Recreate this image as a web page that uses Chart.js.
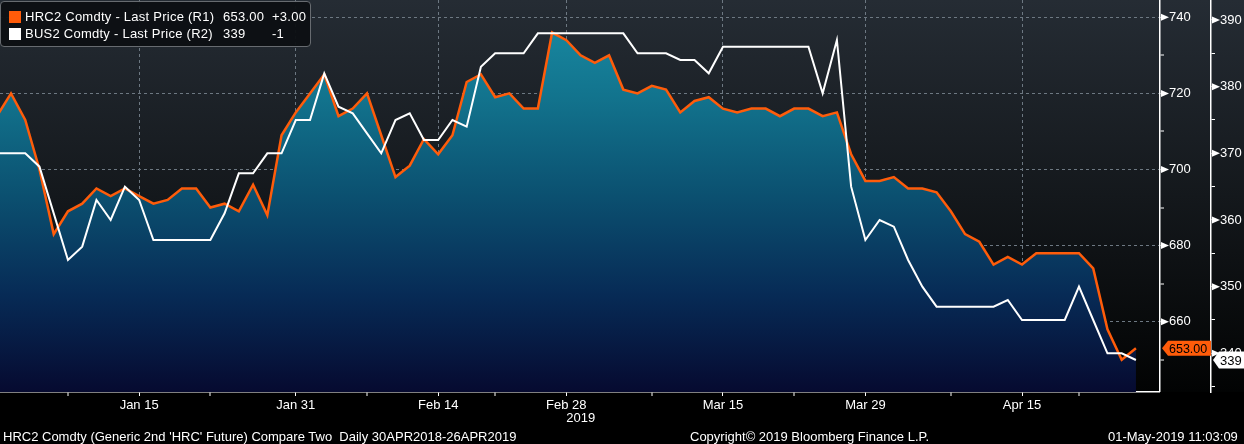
<!DOCTYPE html>
<html>
<head>
<meta charset="utf-8">
<script src="https://cdn.jsdelivr.net/npm/chart.js@4.4.1/dist/chart.umd.min.js"></script>
<style>
  html, body { margin: 0; padding: 0; background: #000; }
  #wrap { position: relative; width: 1244px; height: 444px; overflow: hidden; }
  #wrap canvas { position: absolute; left: 0; top: 0; }
  .t { position: absolute; color: #fff; font: 13px "Liberation Sans", Arial, sans-serif; white-space: pre; line-height: 15px; }
  #legend .t { letter-spacing: 0.25px; }
  #legend { position: absolute; left: 0; top: 1px; width: 311px; height: 46px; box-sizing: border-box;
            background: rgba(13,16,19,0.96); border: 1px solid #676b70; border-radius: 4px; }
  .sq { position: absolute; width: 12px; height: 12px; }
</style>
</head>
<body>
<div id="wrap">
  <canvas id="myChart" width="1244" height="444"></canvas>
  <div id="legend">
    <div class="sq" style="left:8px; top:9px; background:#ff5c0a"></div>
    <div class="t" style="left:24px; top:7px">HRC2 Comdty - Last Price (R1)</div>
    <div class="t" style="left:222px; top:7px" id="lv1"></div>
    <div class="t" style="left:271px; top:7px" id="lc1"></div>
    <div class="sq" style="left:8px; top:26px; background:#fff"></div>
    <div class="t" style="left:24px; top:24px">BUS2 Comdty - Last Price (R2)</div>
    <div class="t" style="left:222px; top:24px" id="lv2"></div>
    <div class="t" style="left:271px; top:24px" id="lc2"></div>
  </div>
  <div class="t" style="left:3px; top:429px">HRC2 Comdty (Generic 2nd 'HRC' Future) Compare Two  Daily 30APR2018-26APR2019</div>
  <div class="t" style="left:690px; top:429px">Copyright© 2019 Bloomberg Finance L.P.</div>
  <div class="t" style="left:1108px; top:429px">01-May-2019 11:03:09</div>
</div>
<script>
// trading days shown
const dates = [
    '2018-12-31',
    '2019-01-02', '2019-01-03', '2019-01-04', '2019-01-07', '2019-01-08', '2019-01-09', '2019-01-10',
    '2019-01-11', '2019-01-14', '2019-01-15', '2019-01-16', '2019-01-17', '2019-01-18', '2019-01-22',
    '2019-01-23', '2019-01-24', '2019-01-25', '2019-01-28', '2019-01-29', '2019-01-30', '2019-01-31',
    '2019-02-01', '2019-02-04', '2019-02-05', '2019-02-06', '2019-02-07', '2019-02-08', '2019-02-11',
    '2019-02-12', '2019-02-13', '2019-02-14', '2019-02-15', '2019-02-19', '2019-02-20', '2019-02-21',
    '2019-02-22', '2019-02-25', '2019-02-26', '2019-02-27', '2019-02-28',
    '2019-03-01', '2019-03-04', '2019-03-05', '2019-03-06', '2019-03-07', '2019-03-08', '2019-03-11',
    '2019-03-12', '2019-03-13', '2019-03-14', '2019-03-15', '2019-03-18', '2019-03-19', '2019-03-20',
    '2019-03-21', '2019-03-22', '2019-03-25', '2019-03-26', '2019-03-27', '2019-03-28', '2019-03-29',
    '2019-04-01', '2019-04-02', '2019-04-03', '2019-04-04', '2019-04-05', '2019-04-08', '2019-04-09',
    '2019-04-10', '2019-04-11', '2019-04-12', '2019-04-15', '2019-04-16', '2019-04-17', '2019-04-18',
    '2019-04-22', '2019-04-23', '2019-04-24', '2019-04-25', '2019-04-26'
];

// HRC2 (R1)
const hrc = [
    714, 720, 713, 700, 683, 689, 691, 695, 693, 695,
    693, 691, 692, 695, 695, 690, 691, 689, 696, 688,
    709, 715, 720, 725, 714, 716, 720, 709, 698, 701,
    708, 704, 709, 723, 725, 719, 720, 716, 716, 736,
    734, 730, 728, 730, 721, 720, 722, 721, 715, 718,
    719, 716, 715, 716, 716, 714, 716, 716, 714, 715,
    704, 697, 697, 698, 695, 695, 694, 689, 683, 681,
    675, 677, 675, 678, 678, 678, 678, 674, 658, 650,
    653
];

// BUS2 (R2)
const bus = [
    370, 370, 370, 368, 361, 354, 356, 363, 360, 365,
    363, 357, 357, 357, 357, 357, 361, 367, 367, 370,
    370, 375, 375, 382, 377, 376, 373, 370, 375, 376,
    372, 372, 375, 374, 383, 385, 385, 385, 388, 388,
    388, 388, 388, 388, 388, 385, 385, 385, 384, 384,
    382, 386, 386, 386, 386, 386, 386, 386, 379, 387,
    365, 357, 360, 359, 354, 350, 347, 347, 347, 347,
    347, 348, 345, 345, 345, 345, 350, 345, 340, 340,
    339
];

// axis ticks
const xMajor = ['2019-01-15', '2019-01-31', '2019-02-14', '2019-02-28', '2019-03-15', '2019-03-29', '2019-04-15'];
const xMinor = ['2019-01-08', '2019-01-23', '2019-02-07', '2019-02-21', '2019-03-08', '2019-03-22', '2019-04-08', '2019-04-22'];
const r1Major = [660, 680, 700, 720, 740];
const r1Minor = [650, 670, 690, 710, 730];
const r2Major = [340, 350, 360, 370, 380, 390];
const r2Minor = [335, 345, 355, 365, 375, 385];

const X_MIN = 0.2275, X_MAX = 81.69;
const R1_MIN = 641.5, R1_MAX = 744.55;
const R2_MIN = 334.2, R2_MAX = 393.0;

const months = ['Jan', 'Feb', 'Mar', 'Apr', 'May', 'Jun', 'Jul', 'Aug', 'Sep', 'Oct', 'Nov', 'Dec'];
const fmtDate = d => months[+d.slice(5, 7) - 1] + ' ' + d.slice(8, 10);
const majorIdx = xMajor.map(d => dates.indexOf(d));
const minorIdx = xMinor.map(d => dates.indexOf(d));

const ORANGE = '#ff5c0a';
const GRID = '#6d7882';
const FONT = { family: '"Liberation Sans", Arial, sans-serif', size: 13 };

// legend values
const last1 = hrc[hrc.length - 1], prev1 = hrc[hrc.length - 2];
const last2 = bus[bus.length - 1], prev2 = bus[bus.length - 2];
document.getElementById('lv1').textContent = last1.toFixed(2);
document.getElementById('lc1').textContent = (last1 - prev1 >= 0 ? '+' : '') + (last1 - prev1).toFixed(2);
document.getElementById('lv2').textContent = String(last2);
document.getElementById('lc2').textContent = String(last2 - prev2);

const bgPlugin = {
    id: 'bg',
    beforeDraw(chart) {
        const ctx = chart.ctx, a = chart.chartArea;
        ctx.save();
        ctx.fillStyle = '#000';
        ctx.fillRect(0, 0, chart.width, chart.height);
        const g = ctx.createLinearGradient(0, a.top, 0, a.bottom);
        g.addColorStop(0, '#252c34');
        g.addColorStop(0.5, '#14181c');
        g.addColorStop(1, '#020303');
        ctx.fillStyle = g;
        ctx.fillRect(0, a.top, chart.width, a.bottom - a.top);
        ctx.restore();
    }
};

function arrowRight(ctx, x, y) {
    ctx.beginPath();
    ctx.moveTo(x, y - 3.5);
    ctx.lineTo(x + 8, y);
    ctx.lineTo(x, y + 3.5);
    ctx.closePath();
    ctx.fill();
}

function valueBox(ctx, x, y, w, h, fill, text) {
    ctx.fillStyle = fill;
    ctx.beginPath();
    ctx.moveTo(x, y);
    ctx.lineTo(x + 6, y - h / 2);
    ctx.lineTo(x + w, y - h / 2);
    ctx.lineTo(x + w, y + h / 2);
    ctx.lineTo(x + 6, y + h / 2);
    ctx.closePath();
    ctx.fill();
    ctx.fillStyle = '#000';
    ctx.textAlign = 'left';
    ctx.textBaseline = 'middle';
    ctx.fillText(text, x + 7, y + 1);
}

const markPlugin = {
    id: 'marks',
    afterDraw(chart) {
        const ctx = chart.ctx;
        const r1 = chart.scales.r1, r2 = chart.scales.r2, xs = chart.scales.x;
        ctx.save();
        ctx.fillStyle = '#fff';
        r1Major.forEach(v => arrowRight(ctx, r1.left + 1, r1.getPixelForValue(v)));
        r2Major.forEach(v => arrowRight(ctx, r2.left + 1, r2.getPixelForValue(v)));

        ctx.font = '12.5px "Liberation Sans", Arial, sans-serif';
        valueBox(ctx, r1.left + 2, r1.getPixelForValue(last1), 49, 15, ORANGE, last1.toFixed(2));
        ctx.font = '13px "Liberation Sans", Arial, sans-serif';
        valueBox(ctx, r2.left + 2, r2.getPixelForValue(last2), 31, 17, '#fff', String(last2));

        // year under the first tick of the year shown
        ctx.fillStyle = '#fff';
        ctx.textAlign = 'left';
        ctx.textBaseline = 'middle';
        ctx.fillText('2019', xs.getPixelForValue(dates.indexOf('2019-02-28')), 418);
        ctx.restore();
    }
};

const areaFill = c => {
    const a = c.chart.chartArea;
    if (!a) return 'rgba(0,0,0,0)';
    const g = c.chart.ctx.createLinearGradient(0, a.top, 0, a.bottom);
    g.addColorStop(0, '#1a8ea6');
    g.addColorStop(0.25, '#12738d');
    g.addColorStop(0.5, '#0b5070');
    g.addColorStop(0.75, '#072b56');
    g.addColorStop(1, '#060a30');
    return g;
};

const noPad = s => { s.paddingTop = 0; s.paddingBottom = 0; s.paddingLeft = 0; s.paddingRight = 0; };

const ctx1 = document.getElementById('myChart').getContext('2d');
const myChart = new Chart(ctx1, {
    type: 'line',
    data: {
        datasets: [{
            label: 'BUS2 Comdty',
            data: bus.map((v, i) => ({ x: i, y: v })),
            yAxisID: 'r2',
            borderColor: '#ffffff',
            borderWidth: 2,
            pointRadius: 0,
            fill: false,
            tension: 0,
            order: 0
        }, {
            label: 'HRC2 Comdty',
            data: hrc.map((v, i) => ({ x: i, y: v })),
            yAxisID: 'r1',
            borderColor: ORANGE,
            borderWidth: 2.5,
            pointRadius: 0,
            fill: 'start',
            backgroundColor: areaFill,
            tension: 0,
            order: 1
        }]
    },
    options: {
        responsive: false,
        animation: false,
        layout: { padding: 0 },
        plugins: { legend: { display: false }, tooltip: { enabled: false } },
        scales: {
            x: {
                type: 'linear',
                min: X_MIN,
                max: X_MAX,
                afterBuildTicks: s => { s.ticks = majorIdx.concat(minorIdx).sort((a, b) => a - b).map(v => ({ value: v })); },
                ticks: {
                    autoSkip: false, maxRotation: 0, color: '#fff', font: FONT, padding: 2,
                    callback: v => majorIdx.includes(v) ? fmtDate(dates[v]) : ''
                },
                grid: {
                    color: GRID,
                    lineWidth: c => (c.tick && majorIdx.includes(c.tick.value)) ? 1 : 0,
                    tickColor: '#fff', tickWidth: 1, tickLength: 4
                },
                border: { color: '#fff', width: 1.5, dash: [3, 3] },
                afterFit: s => { noPad(s); s.height = 52; }
            },
            r1: {
                type: 'linear',
                position: 'right',
                weight: 1,
                min: R1_MIN,
                max: R1_MAX,
                afterBuildTicks: s => { s.ticks = r1Minor.concat(r1Major).sort((a, b) => a - b).map(v => ({ value: v })); },
                ticks: {
                    autoSkip: false, color: '#fff', font: FONT, padding: 5,
                    callback: v => r1Major.includes(v) ? String(v) : ''
                },
                grid: {
                    color: GRID,
                    lineWidth: c => (c.tick && r1Major.includes(c.tick.value)) ? 1 : 0,
                    tickColor: '#fff', tickWidth: 1, tickLength: 4
                },
                border: { color: '#fff', width: 1.5, dash: [3, 3] },
                afterFit: s => { noPad(s); s.width = 51; }
            },
            r2: {
                type: 'linear',
                position: 'right',
                weight: 2,
                min: R2_MIN,
                max: R2_MAX,
                afterBuildTicks: s => { s.ticks = r2Minor.concat(r2Major).sort((a, b) => a - b).map(v => ({ value: v })); },
                ticks: {
                    autoSkip: false, color: '#fff', font: FONT, padding: 5,
                    callback: v => r2Major.includes(v) ? String(v) : ''
                },
                grid: { drawOnChartArea: false, tickColor: '#fff', tickWidth: 1, tickLength: 4 },
                border: { color: '#fff', width: 1.5 },
                afterFit: s => { noPad(s); s.width = 33; }
            }
        }
    },
    plugins: [bgPlugin, markPlugin]
});
</script>
</body>
</html>
